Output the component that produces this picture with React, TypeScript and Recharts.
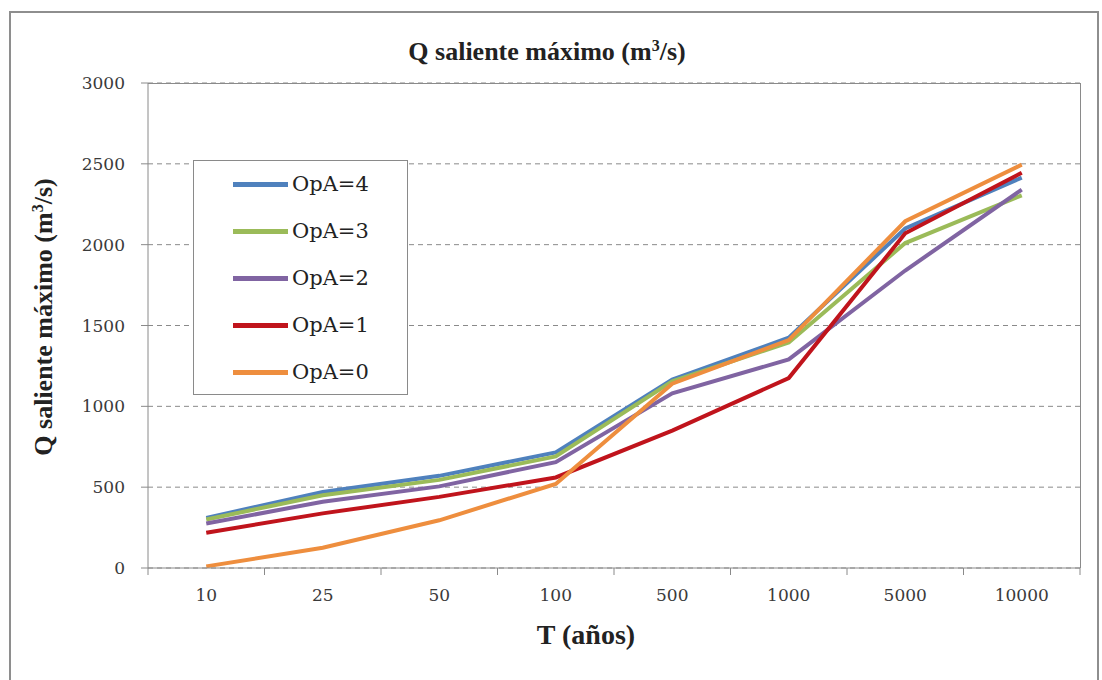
import { CartesianGrid, Legend, Line, LineChart, XAxis, YAxis } from 'recharts'

const periods = ['10', '25', '50', '100', '500', '1000', '5000', '10000']
const opA4 = [310, 470, 570, 715, 1165, 1425, 2100, 2415]
const opA3 = [300, 450, 545, 690, 1155, 1395, 2010, 2305]
const opA2 = [275, 410, 505, 655, 1080, 1290, 1840, 2340]
const opA1 = [218, 338, 440, 560, 850, 1175, 2070, 2445]
const opA0 = [10, 125, 295, 520, 1140, 1410, 2145, 2495]
const yTicks = [0, 500, 1000, 1500, 2000, 2500, 3000]

const seriesNames = ['OpA=4', 'OpA=3', 'OpA=2', 'OpA=1', 'OpA=0']
const seriesValues = [opA4, opA3, opA2, opA1, opA0]
const COLORS = ['#4F81BD', '#9BBB59', '#8064A2', '#C0141C', '#EE8E3E']

const data = periods.map((t, i) => {
	const row: Record<string, number | string> = { t }
	seriesNames.forEach((name, s) => {
		row[name] = seriesValues[s][i]
	})
	return row
})

const W = 1102
const H = 680
const PLOT_LEFT = 148
const PLOT_RIGHT = 1080
const PLOT_TOP = 83
const PLOT_BOTTOM = 568
const HALF_BAND = (PLOT_RIGHT - PLOT_LEFT) / periods.length / 2
const AXIS_GRAY = '#8a8a8a'
const TICK_FONT = '"DejaVu Serif", serif'
const TITLE_FONT = '"Liberation Serif", serif'

const XTick = (props: any) => {
	const { x, y, payload, index } = props
	return (
		<g>
			<line x1={x - HALF_BAND} y1={y} x2={x - HALF_BAND} y2={y + 7} stroke={AXIS_GRAY} />
			{index === periods.length - 1 && (
				<line x1={x + HALF_BAND} y1={y} x2={x + HALF_BAND} y2={y + 7} stroke={AXIS_GRAY} />
			)}
			<text x={x} y={y + 33} textAnchor="middle" fill="#3a3a3a" fontSize={17} fontFamily={TICK_FONT}>
				{payload.value}
			</text>
		</g>
	)
}

const LegendBox = () => (
	<div
		style={{
			position: 'relative',
			width: 215,
			height: 235,
			boxSizing: 'border-box',
			border: '1px solid #8a8a8a',
			background: '#fff',
		}}
	>
		{seriesNames.map((name, i) => (
			<div key={name} style={{ position: 'absolute', left: 0, top: 23 + 47 * i, width: '100%' }}>
				<span
					style={{
						position: 'absolute',
						left: 39,
						top: -2,
						width: 55,
						height: 5,
						background: COLORS[i],
					}}
				/>
				<span
					style={{
						position: 'absolute',
						left: 98,
						top: -14,
						fontFamily: TICK_FONT,
						fontSize: 21,
						lineHeight: '28px',
						color: '#222',
						whiteSpace: 'nowrap',
					}}
				>
					{name}
				</span>
			</div>
		))}
	</div>
)

export default function App() {
	return (
		<div style={{ position: 'absolute', left: 0, top: 0, width: W, height: H, background: '#fff', overflow: 'hidden' }}>
			<div
				style={{
					position: 'absolute',
					left: 9,
					top: 11,
					width: 1090,
					height: 700,
					border: '2px solid #8e8e8e',
					boxSizing: 'border-box',
				}}
			/>
			<div
				style={{
					position: 'absolute',
					left: 547,
					top: 52,
					transform: 'translate(-50%, -50%)',
					fontFamily: TITLE_FONT,
					fontWeight: 'bold',
					fontSize: 26,
					color: '#222',
					whiteSpace: 'nowrap',
				}}
			>
				Q saliente máximo (m<sup style={{ fontSize: 16 }}>3</sup>/s)
			</div>
			<div
				style={{
					position: 'absolute',
					left: 44,
					top: 317,
					transform: 'translate(-50%, -50%) rotate(-90deg)',
					fontFamily: TITLE_FONT,
					fontWeight: 'bold',
					fontSize: 26,
					color: '#222',
					whiteSpace: 'nowrap',
				}}
			>
				Q saliente máximo (m<sup style={{ fontSize: 16 }}>3</sup>/s)
			</div>
			<div
				style={{
					position: 'absolute',
					left: 586,
					top: 635,
					transform: 'translate(-50%, -50%)',
					fontFamily: TITLE_FONT,
					fontWeight: 'bold',
					fontSize: 28,
					color: '#222',
					whiteSpace: 'nowrap',
				}}
			>
				T (años)
			</div>
			<LineChart
				width={W}
				height={H}
				data={data}
				margin={{ top: PLOT_TOP, right: W - PLOT_RIGHT, left: 0, bottom: 0 }}
				style={{ position: 'absolute', left: 0, top: 0 }}
			>
				<CartesianGrid vertical={false} stroke={AXIS_GRAY} strokeDasharray="5 4" />
				<XAxis
					dataKey="t"
					height={H - PLOT_BOTTOM}
					padding={{ left: HALF_BAND, right: HALF_BAND }}
					tickLine={false}
					tickSize={0}
					tickMargin={0}
					axisLine={{ stroke: AXIS_GRAY }}
					tick={<XTick />}
					interval={0}
				/>
				<YAxis
					width={PLOT_LEFT}
					domain={[0, 3000]}
					ticks={yTicks}
					tickSize={7}
					tickMargin={16}
					tickLine={{ stroke: AXIS_GRAY }}
					axisLine={{ stroke: AXIS_GRAY }}
					tick={{ fill: '#3a3a3a', fontSize: 17, fontFamily: TICK_FONT }}
				/>
				{seriesNames.map((name, i) => (
					<Line
						key={name}
						dataKey={name}
						stroke={COLORS[i]}
						strokeWidth={4}
						dot={false}
						activeDot={false}
						isAnimationActive={false}
					/>
				))}
				<Legend
					layout="vertical"
					align="center"
					verticalAlign="middle"
					content={<LegendBox />}
					wrapperStyle={{ left: 193, top: 160, width: 215, height: 235 }}
				/>
			</LineChart>
			{/* plot frame: top and right edges, drawn over the chart */}
			<div
				style={{
					position: 'absolute',
					left: PLOT_LEFT,
					top: PLOT_TOP,
					width: PLOT_RIGHT - PLOT_LEFT + 1,
					height: PLOT_BOTTOM - PLOT_TOP,
					borderTop: `1px solid ${AXIS_GRAY}`,
					borderRight: `1px solid ${AXIS_GRAY}`,
					boxSizing: 'border-box',
					pointerEvents: 'none',
				}}
			/>
		</div>
	)
}
